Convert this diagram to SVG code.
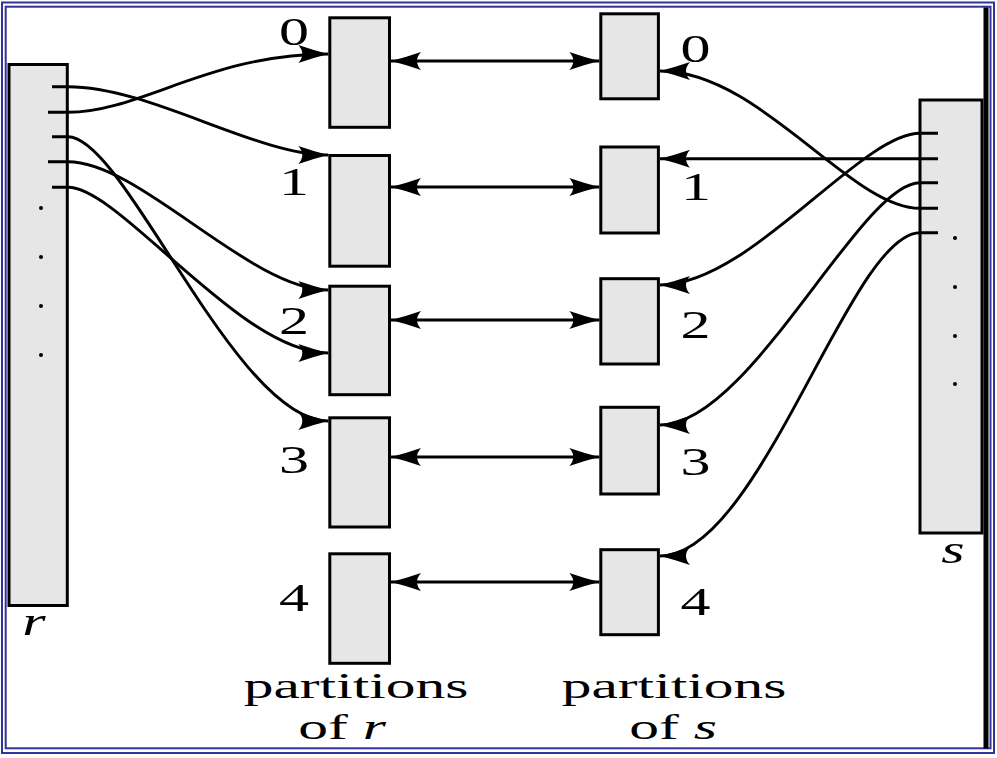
<svg xmlns="http://www.w3.org/2000/svg" width="997" height="758" viewBox="0 0 997 758">
<style>
.box{fill:#e6e6e6;stroke:#000;stroke-width:3}
.con{fill:none;stroke:#000;stroke-width:2.9}
.arr{marker-end:url(#ah)}
.dbl{marker-start:url(#ah);marker-end:url(#ah)}
.lbl{font-family:"Liberation Serif","Times New Roman",serif;font-size:40px;fill:#000;text-anchor:middle}
.cap{font-size:35px}
.it{font-style:italic}
.frame{fill:none;stroke:#333399;stroke-width:2}
</style>
<defs>
<marker id="ah" markerUnits="userSpaceOnUse" viewBox="-31 -10 32 20" refX="0" refY="0" markerWidth="32" markerHeight="20" orient="auto-start-reverse">
<path d="M0,0 Q-14,-3.5 -30,-9 Q-22,0 -30,9 Q-14,3.5 0,0 Z" fill="#000"/>
</marker>
</defs>
<rect width="997" height="758" fill="#fff"/>
<g id="frame">
<rect class="frame" x="2" y="2.5" width="992" height="750.5"/>
<rect class="frame" x="5.7" y="6.7" width="984.8" height="741.6"/>
<rect x="983.5" y="7.5" width="5" height="741" fill="#000"/>
</g>
<g id="relation-r">
<rect class="box" x="9" y="64.5" width="58.3" height="541"/>
<circle cx="41" cy="208" r="2"/><circle cx="41" cy="257" r="2"/><circle cx="41" cy="306" r="2"/><circle cx="41" cy="355" r="2"/>
<text class="lbl it" transform="translate(34,635) scale(1.5,1)">r</text>
</g>
<g id="relation-s">
<rect class="box" x="920" y="100" width="62" height="433"/>
<circle cx="955" cy="238" r="2"/><circle cx="955" cy="287" r="2"/><circle cx="955" cy="336" r="2"/><circle cx="955" cy="384" r="2"/>
<text class="lbl it" transform="translate(953,563) scale(1.5,1)">s</text>
</g>
<g id="r0"><rect class="box" x="329.8" y="17.8" width="59.7" height="109.5"/><text class="lbl" transform="translate(294,45) scale(1.5,1)">0</text></g>
<g id="r1"><rect class="box" x="329.8" y="155.5" width="59.7" height="110.7"/><text class="lbl" transform="translate(294,195) scale(1.5,1)">1</text></g>
<g id="r2"><rect class="box" x="329.8" y="286.2" width="59.7" height="108.5"/><text class="lbl" transform="translate(294,334) scale(1.5,1)">2</text></g>
<g id="r3"><rect class="box" x="329.8" y="417.8" width="59.7" height="109.2"/><text class="lbl" transform="translate(294,473) scale(1.5,1)">3</text></g>
<g id="r4"><rect class="box" x="329.8" y="553.8" width="59.7" height="109.5"/><text class="lbl" transform="translate(294,611) scale(1.5,1)">4</text></g>
<g id="s0"><rect class="box" x="600.8" y="13.8" width="57.6" height="85"/><text class="lbl" transform="translate(695.5,62) scale(1.5,1)">0</text></g>
<g id="s1"><rect class="box" x="600.8" y="147" width="57.6" height="86"/><text class="lbl" transform="translate(696,200) scale(1.5,1)">1</text></g>
<g id="s2"><rect class="box" x="600.8" y="278.7" width="57.6" height="85.3"/><text class="lbl" transform="translate(695.5,338) scale(1.5,1)">2</text></g>
<g id="s3"><rect class="box" x="600.8" y="407.3" width="57.6" height="86.7"/><text class="lbl" transform="translate(695.5,475) scale(1.5,1)">3</text></g>
<g id="s4"><rect class="box" x="600.8" y="549.7" width="57.6" height="85"/><text class="lbl" transform="translate(695.5,615) scale(1.5,1)">4</text></g>
<g id="captions">
<text class="lbl cap" transform="translate(356,698) scale(1.7,1)">partitions</text>
<text class="lbl cap" transform="translate(342,739) scale(1.7,1)">of <tspan class="it">r</tspan></text>
<text class="lbl cap" transform="translate(674,698) scale(1.7,1)">partitions</text>
<text class="lbl cap" transform="translate(673,739) scale(1.7,1)">of <tspan class="it">s</tspan></text>
</g>
<g id="connectors">
<path class="con arr" d="M52,86.7 H68 C150,86.7 255,155 328.3,155"/>
<path class="con arr" d="M48,112.3 H68 C140,112.3 210,54 328.3,54"/>
<path class="con arr" d="M52,136.7 H68 C125,136.7 235,421 328.3,421"/>
<path class="con arr" d="M48,161.7 H68 C140,161.7 250,290 328.3,290"/>
<path class="con arr" d="M52,187.3 H68 C120,187.3 240,353 328.3,353"/>
<path class="con arr" d="M938,133.3 H920 C860,133.3 750,285 660,285"/>
<path class="con arr" d="M938,158.8 H660"/>
<path class="con arr" d="M938,182.7 H920 C860,182.7 750,425 660,425"/>
<path class="con arr" d="M938,208.3 H920 C850,208.3 760,71 660,71"/>
<path class="con arr" d="M938,232.7 H920 C850,232.7 760,556 660,556"/>
<path class="con dbl" d="M391,61 H599.3"/>
<path class="con dbl" d="M391,187 H599.3"/>
<path class="con dbl" d="M391,320 H599.3"/>
<path class="con dbl" d="M391,457 H599.3"/>
<path class="con dbl" d="M391,582 H599.3"/>
</g>
</svg>
